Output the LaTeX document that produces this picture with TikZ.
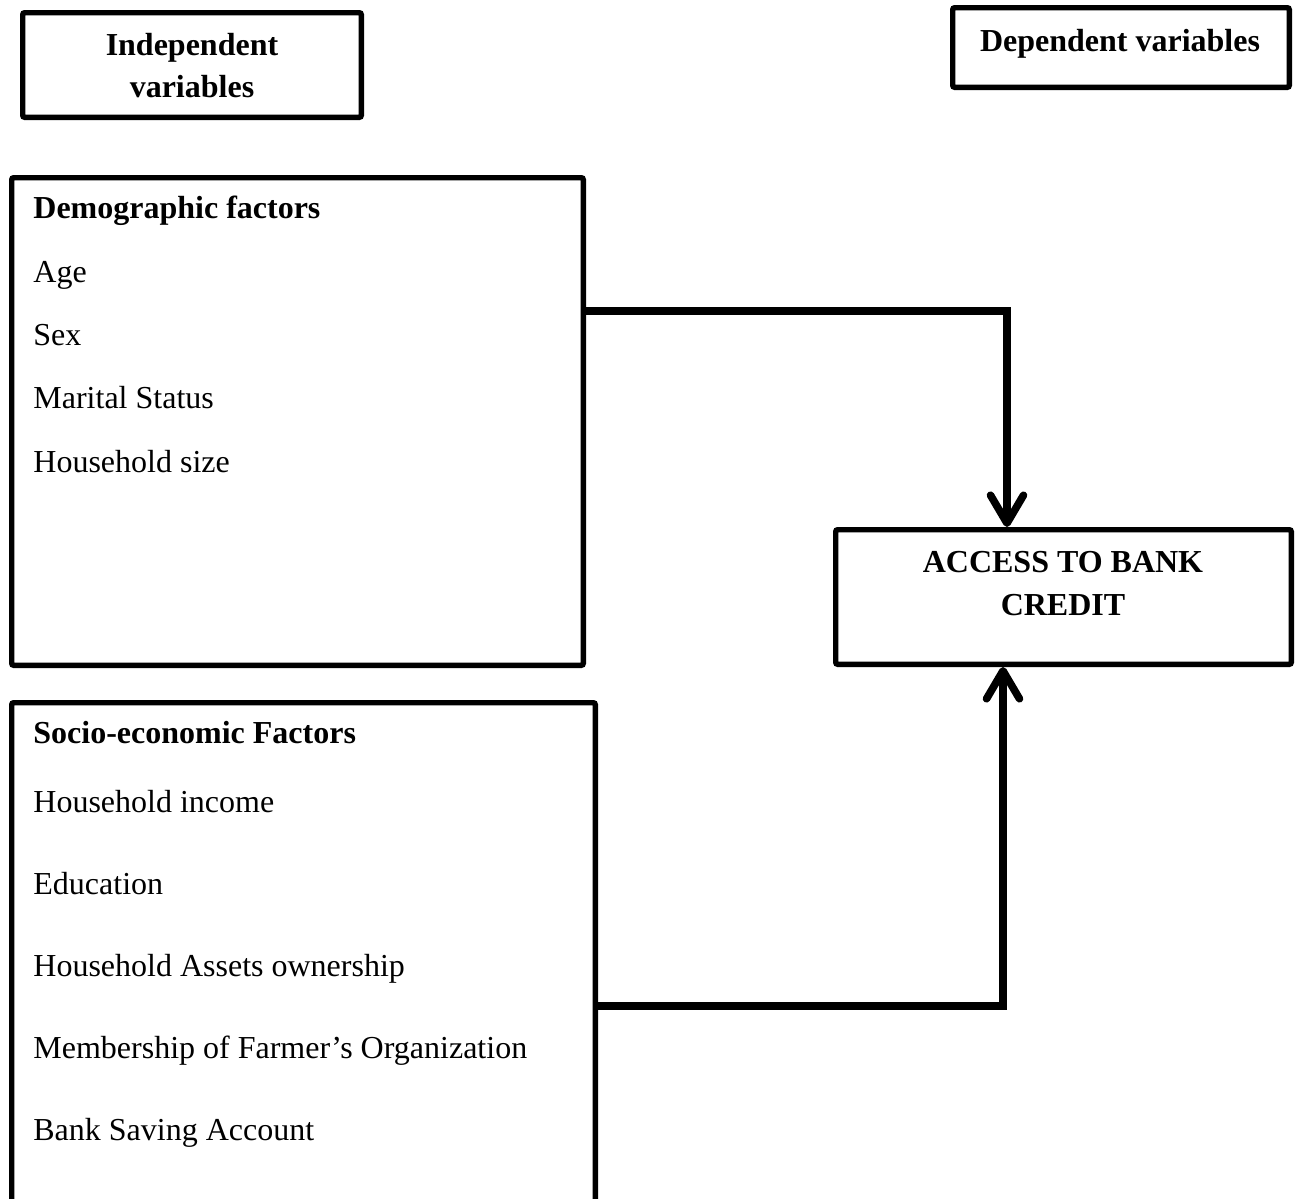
\documentclass[tikz,border=0pt]{standalone}
\usepackage{fontspec}
\setmainfont{Liberation Serif}
\usetikzlibrary{arrows.meta}
\begin{document}
\begin{tikzpicture}[x=0.5pt,y=-0.5pt,
  box/.style={draw, line width=2.7pt, rounded corners=1pt, anchor=north west, inner sep=0pt},
  conn/.style={line width=3.8pt, line join=miter,
    -{Straight Barb[length=14pt,width=16.5pt,round]}},
  txt/.style={font=\fontsize{16}{19}\selectfont, anchor=base west, inner sep=0pt},
  btxt/.style={font=\fontsize{16}{19}\selectfont\bfseries, anchor=base west, inner sep=0pt},
  ctxt/.style={font=\fontsize{16}{19}\selectfont\bfseries, anchor=base, inner sep=0pt}]
\useasboundingbox (0,0) rectangle (1296,1199);
\clip (0,0) rectangle (1296,1199);

% boxes
\node[box, minimum width=169.3pt, minimum height=52.3pt] (indep) at (20,10) {};
\node[box, minimum width=168.3pt, minimum height=39.8pt] (dep) at (950,5) {};
\node[box, minimum width=285.8pt, minimum height=243.8pt] (demo) at (9,175) {};
\node[box, minimum width=227.8pt, minimum height=67.3pt] (access) at (833,527) {};
\node[box, minimum width=291.8pt, minimum height=262pt] (socio) at (9,700) {};

% header texts
\node[ctxt] (t-indep1) at (192,55) {Independent};
\node[ctxt] (t-indep2) at (192,97) {variables};
\node[ctxt] (t-dep) at (1120,51) {Dependent variables};
\node[ctxt] (t-acc1) at (1063,572) {ACCESS TO BANK};
\node[ctxt] (t-acc2) at (1063,615) {CREDIT};

% demographic
\node[btxt] (d0) at (33,218) {Demographic factors};
\node[txt] (d1) at (33,282) {Age};
\node[txt] (d2) at (33,345) {Sex};
\node[txt] (d3) at (33,408) {Marital Status};
\node[txt] (d4) at (33,472) {Household size};

% socio-economic
\node[btxt] (s0) at (33,743) {Socio-economic Factors};
\node[txt] (s1) at (33,812) {Household income};
\node[txt] (s2) at (33,894) {Education};
\node[txt] (s3) at (33,976) {Household Assets ownership};
\node[txt] (s4) at (33,1058) {Membership of Farmer’s Organization};
\node[txt] (s5) at (33,1140) {Bank Saving Account};

% connectors
\coordinate (k1) at (1007,311);
\coordinate (k2) at (1003,1006);
\draw[conn] (demo.east |- k1) -- (k1) -- (k1 |- access.north);
\draw[conn] (socio.east |- k2) -- (k2) -- (k2 |- access.south);
\end{tikzpicture}
\end{document}
